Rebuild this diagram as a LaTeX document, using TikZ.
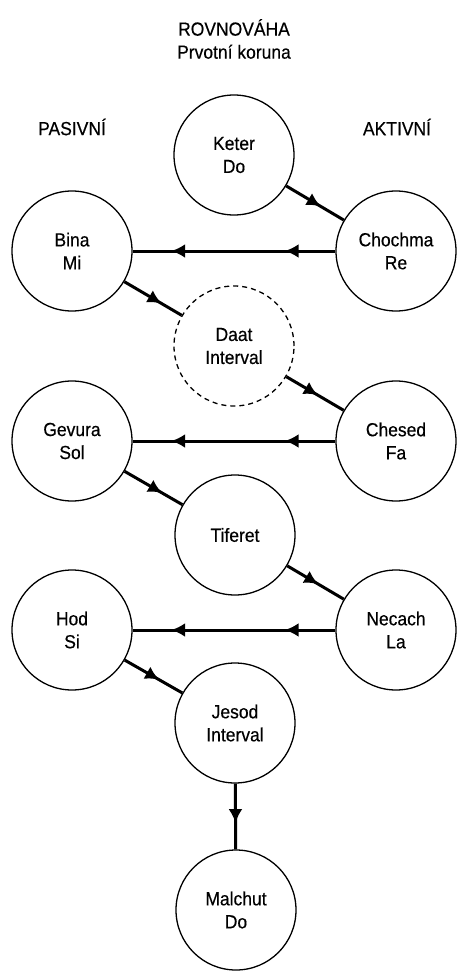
\documentclass[tikz,border=0pt]{standalone}
\usepackage{fontspec}
\setmainfont{Liberation Sans}[FakeStretch=0.92, FakeBold=0.4]
\usepackage{tikz}
\usetikzlibrary{positioning}
\usetikzlibrary{arrows.meta, decorations.markings}

\tikzset{
  sefira/.style={circle, draw, line width=1.3pt, minimum size=120pt, inner sep=0pt, align=center},
  flow/.style={line width=3pt, postaction={decorate},
    decoration={markings, mark=at position #1 with {\arrow{Latex[length=14pt,width=14pt]}}}},
  flowtwo/.style={line width=3pt, postaction={decorate},
    decoration={markings,
      mark=at position 0.25 with {\arrow{Latex[length=14pt,width=14pt]}},
      mark=at position 0.81 with {\arrow{Latex[length=14pt,width=14pt]}}}}
}

\begin{document}
\begin{tikzpicture}[x=1pt, y=1pt, font=\fontsize{19}{23}\selectfont]
    \useasboundingbox (0,0) rectangle (458,-971);

    % Nadpisy
    \node (title) at (234,-39) [align=center] {ROVNOVÁHA \\ Prvotní koruna};
    \node (pasivni) at (72,-127) {PASIVNÍ};
    \node (aktivni) at (397,-127) {AKTIVNÍ};

    % Stredni sloup
    \node (keter) at (234,-155) [sefira] {Keter \\ Do};
    \node (daat) at (234,-346) [sefira, dashed, dash pattern=on 5pt off 4pt] {Daat \\ Interval};
    \node (tiferet) at (235,-535) [sefira] {Tiferet};
    \node (jesod) at (235,-723) [sefira] {Jesod \\ Interval};
    \node (malchut) at (236,-910) [sefira] {Malchut \\ Do};

    % Pasivni a aktivni strana
    \node (bina) at (72,-251) [sefira] {Bina \\ Mi};
    \node (chochma) at (396,-251) [sefira] {Chochma \\ Re};
    \node (gevura) at (72,-441) [sefira] {Gevura \\ Sol};
    \node (chesed) at (396,-441) [sefira] {Chesed \\ Fa};
    \node (hod) at (72,-630) [sefira] {Hod \\ Si};
    \node (necach) at (396,-630) [sefira] {Necach \\ La};

    % Spojnice
    \draw[flow=0.6] (keter) -- (chochma);
    \draw[flowtwo] (chochma) -- (bina);
    \draw[flow=0.65] (bina) -- (daat);
    \draw[flow=0.55] (daat) -- (chesed);
    \draw[flowtwo] (chesed) -- (gevura);
    \draw[flow=0.65] (gevura) -- (tiferet);
    \draw[flow=0.55] (tiferet) -- (necach);
    \draw[flowtwo] (necach) -- (hod);
    \draw[flow=0.6] (hod) -- (jesod);
    \draw[flow=0.6] (jesod) -- (malchut);
\end{tikzpicture}
\end{document}
